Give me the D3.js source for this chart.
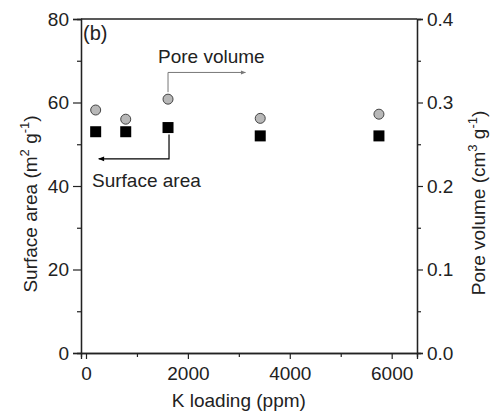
<!DOCTYPE html>
<html>
<head>
<meta charset="utf-8">
<script src="https://cdn.jsdelivr.net/npm/d3@7"></script>
<style>
  body { margin: 0; background: #fff; }
  text { font-family: Arial, "Liberation Sans", sans-serif; fill: #222; }
</style>
</head>
<body>
<div id="chart"></div>
<script>
// data
const kLoading = [190, 780, 1610, 3420, 5750];
const surfaceArea = [53.0, 53.0, 54.0, 52.0, 52.0];
const poreVolume = [0.291, 0.280, 0.304, 0.281, 0.286];
const xTicks = [0, 2000, 4000, 6000];
const yLeftTicks = [0, 20, 40, 60, 80];
const yRightTicks = [0, 0.1, 0.2, 0.3, 0.4];

const w = 490, h = 413;
const m = {left: 81, right: 73, top: 19, bottom: 60};
const fs = 19;

const svg = d3.select('#chart').append('svg')
    .attr('width', w).attr('height', h);

const x = d3.scaleLinear().domain([-98, 6497]).range([m.left, w - m.right]);
const yL = d3.scaleLinear().domain([0, 80]).range([h - m.bottom, m.top]);
const yR = d3.scaleLinear().domain([0, 0.4]).range([h - m.bottom, m.top]);

// axes with minor ticks
const gx = svg.append('g').attr('transform', 'translate(0,' + (h - m.bottom) + ')');
gx.call(d3.axisBottom(x).tickValues([1000, 3000, 5000]).tickSize(4).tickFormat(''));
gx.append('g').call(d3.axisBottom(x).tickValues(xTicks).tickSize(6).tickPadding(8).tickFormat(d3.format('d')));

const gl = svg.append('g').attr('transform', 'translate(' + m.left + ',0)');
gl.call(d3.axisLeft(yL).tickValues([10, 30, 50, 70]).tickSize(4).tickFormat(''));
gl.append('g').call(d3.axisLeft(yL).tickValues(yLeftTicks).tickSize(8).tickPadding(4));

const gr = svg.append('g').attr('transform', 'translate(' + (w - m.right) + ',0)');
gr.call(d3.axisRight(yR).tickValues([0.05, 0.15, 0.25, 0.35]).tickSize(4).tickFormat(''));
gr.append('g').call(d3.axisRight(yR).tickValues(yRightTicks).tickSize(6).tickPadding(4).tickFormat(d3.format('.1f')));

svg.selectAll('.domain').attr('stroke', '#222').attr('stroke-width', 1.3);
svg.selectAll('.tick line').attr('stroke', '#222').attr('stroke-width', 1.2);
svg.selectAll('.tick text').attr('font-size', fs).attr('fill', '#222');

// top frame line
svg.append('line')
    .attr('x1', m.left).attr('x2', w - m.right)
    .attr('y1', m.top).attr('y2', m.top)
    .attr('stroke', '#222').attr('stroke-width', 1.3);

// circles (pore volume)
svg.selectAll('circle.pv')
    .data(poreVolume)
    .enter().append('circle')
    .attr('class', 'pv')
    .attr('cx', (d, i) => x(kLoading[i]))
    .attr('cy', d => yR(d))
    .attr('r', 5)
    .attr('fill', '#b8b8b8')
    .attr('stroke', '#444')
    .attr('stroke-width', 1);

// squares (surface area)
const sq = 11;
svg.selectAll('rect.sa')
    .data(surfaceArea)
    .enter().append('rect')
    .attr('class', 'sa')
    .attr('x', (d, i) => x(kLoading[i]) - sq / 2)
    .attr('y', d => yL(d) - sq / 2)
    .attr('width', sq).attr('height', sq)
    .attr('fill', '#000');

// arrow heads
const defs = svg.append('defs');
[['arrBlack', '#000'], ['arrGray', '#777']].forEach(a => {
  defs.append('marker')
      .attr('id', a[0])
      .attr('viewBox', '0 0 10 10')
      .attr('refX', 9).attr('refY', 5)
      .attr('markerWidth', 7).attr('markerHeight', 5)
      .attr('orient', 'auto')
    .append('path')
      .attr('d', 'M0,1 L10,5 L0,9 Z')
      .attr('fill', a[1]);
});

// pore volume arrow
const px = x(kLoading[2]);
svg.append('path')
    .attr('d', 'M' + px + ',' + (yR(poreVolume[2]) - 7) + ' V' + yR(0.336) + ' H' + x(3130))
    .attr('fill', 'none').attr('stroke', '#777').attr('stroke-width', 1)
    .attr('marker-end', 'url(#arrGray)');

svg.append('text')
    .attr('x', 158).attr('y', 63)
    .attr('font-size', fs).attr('fill', '#333')
    .text('Pore volume');

// surface area arrow
svg.append('path')
    .attr('d', 'M' + (px + 1) + ',' + (yL(surfaceArea[2]) + 7) + ' V' + yL(46.5) + ' H' + x(250))
    .attr('fill', 'none').attr('stroke', '#000').attr('stroke-width', 1.2)
    .attr('marker-end', 'url(#arrBlack)');

svg.append('text')
    .attr('x', 92).attr('y', 187)
    .attr('font-size', fs).attr('fill', '#333')
    .text('Surface area');

// panel tag
svg.append('text')
    .attr('x', 83).attr('y', 40)
    .attr('font-size', 20).attr('fill', '#222')
    .text('(b)');

// axis titles
svg.append('text')
    .attr('x', x(3000)).attr('y', 407)
    .attr('text-anchor', 'middle')
    .attr('font-size', fs).attr('fill', '#333')
    .text('K loading (ppm)');

const lt = svg.append('text')
    .attr('transform', 'translate(37,204) rotate(-90)')
    .attr('text-anchor', 'middle')
    .attr('font-size', fs).attr('fill', '#333');
lt.append('tspan').text('Surface area (m');
lt.append('tspan').attr('dy', -8).attr('font-size', 13).text('2');
lt.append('tspan').attr('dy', 8).text(' g');
lt.append('tspan').attr('dy', -8).attr('font-size', 13).text('-1');
lt.append('tspan').attr('dy', 8).text(')');

const rt = svg.append('text')
    .attr('transform', 'translate(485,203) rotate(-90)')
    .attr('text-anchor', 'middle')
    .attr('font-size', fs).attr('fill', '#333');
rt.append('tspan').text('Pore volume (cm');
rt.append('tspan').attr('dy', -8).attr('font-size', 13).text('3');
rt.append('tspan').attr('dy', 8).text(' g');
rt.append('tspan').attr('dy', -8).attr('font-size', 13).text('-1');
rt.append('tspan').attr('dy', 8).text(')');
</script>
</body>
</html>
